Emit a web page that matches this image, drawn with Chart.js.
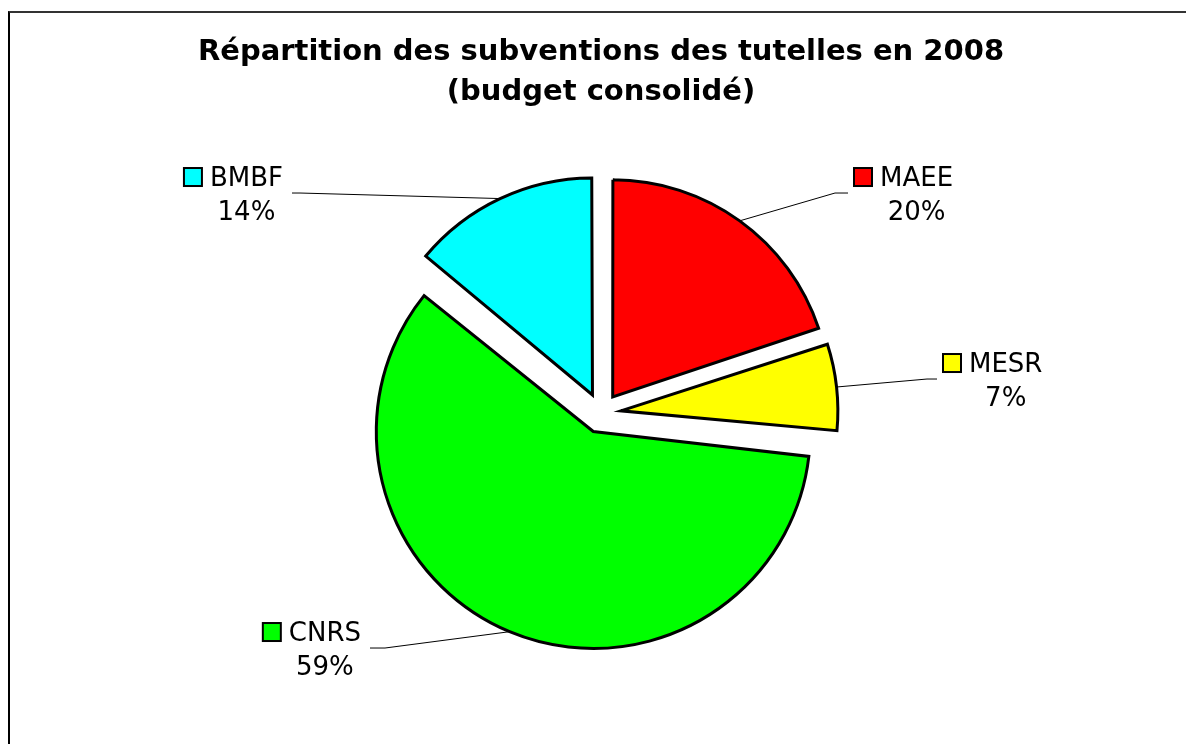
<!DOCTYPE html>
<html>
<head>
<meta charset="utf-8">
<script src="https://cdn.jsdelivr.net/npm/chart.js@4.4.1/dist/chart.umd.min.js"></script>
<style>
html, body { margin: 0; padding: 0; background: #fff; overflow: hidden; }
#frame { position: absolute; left: 8px; top: 11px; width: 1300px; height: 900px; border-top: 2px solid #333; border-left: 2px solid #000; }
#myChart { position: absolute; left: 0; top: 0; }
</style>
</head>
<body>
<div id="frame"></div>
<canvas id="myChart" width="1186" height="744"></canvas>
<script>
var categories = ['MAEE', 'MESR', 'CNRS', 'BMBF'];
var values = [19.9, 6.7, 59.4, 14.0];
var colors = ['#ff0000', '#ffff00', '#00ff00', '#00ffff'];
var titleLines = ['Répartition des subventions des tutelles en 2008', '(budget consolidé)'];

// layout bits (not data)
var pieRadius = 217;
var explode = 20;                 // px each slice is pulled out
var labelPos = [[247, -220], [336, -34], [-231, 235], [-309, -220]];   // leader end, relative to pie centre
var elbow = [-13, -10, 15, 8];    // short horizontal part of the leader
var labelFont = '26px "DejaVu Sans", Verdana, sans-serif';

// chart.js grows narrow exploded slices a bit, put them back to one radius
var fixRadius = {
    id: 'fixRadius',
    beforeDatasetsDraw: function(chart) {
        chart.getDatasetMeta(0).data.forEach(function(arc) {
            var fix = 1 - Math.sin(Math.min(Math.PI, arc.circumference));
            arc.outerRadius = pieRadius - explode * fix;
        });
    }
};

var pieLabels = {
    id: 'pieLabels',
    afterDatasetsDraw: function(chart) {
        var ctx = chart.ctx;
        var arcs = chart.getDatasetMeta(0).data;
        var total = values.reduce(function(a, b) { return a + b; }, 0);
        ctx.save();
        arcs.forEach(function(arc, i) {
            var mid = (arc.startAngle + arc.endAngle) / 2;
            var cx = arc.x + Math.cos(mid) * explode;
            var cy = arc.y + Math.sin(mid) * explode;
            var ax = cx + Math.cos(mid) * pieRadius;
            var ay = cy + Math.sin(mid) * pieRadius;
            var px = arc.x + labelPos[i][0];
            var py = arc.y + labelPos[i][1];

            ctx.strokeStyle = '#000';
            ctx.lineWidth = 1;
            ctx.beginPath();
            ctx.moveTo(ax, ay);
            ctx.lineTo(px + elbow[i], py);
            ctx.lineTo(px, py);
            ctx.stroke();

            ctx.font = labelFont;
            ctx.fillStyle = '#000';
            ctx.textBaseline = 'alphabetic';
            var name = categories[i];
            var pct = Math.round(values[i] / total * 100) + '%';
            var w = ctx.measureText(name).width;
            var nameX, keyX;
            if (labelPos[i][0] > 0) {
                keyX = px + 6;
                nameX = keyX + 26;
            } else {
                nameX = px - 9 - w;
                keyX = nameX - 26;
            }
            ctx.textAlign = 'left';
            ctx.fillText(name, nameX, py - 7);
            ctx.textAlign = 'center';
            ctx.fillText(pct, nameX + w / 2, py + 27);

            ctx.fillStyle = colors[i];
            ctx.fillRect(keyX, py - 25, 18, 18);
            ctx.lineWidth = 2;
            ctx.strokeRect(keyX, py - 25, 18, 18);
        });
        ctx.restore();
    }
};

var ctx = document.getElementById('myChart').getContext('2d');
var chart = new Chart(ctx, {
    type: 'pie',
    data: {
        labels: categories,
        datasets: [{
            data: values,
            backgroundColor: colors,
            borderColor: '#000',
            borderWidth: 3,
            borderJoinStyle: 'miter',
            offset: explode * 4
        }]
    },
    options: {
        responsive: false,
        animation: false,
        events: [],
        radius: pieRadius,
        layout: { padding: { left: 24, right: 8, top: 0, bottom: 40 } },
        plugins: {
            legend: { display: false },
            tooltip: { enabled: false },
            title: {
                display: true,
                text: titleLines,
                color: '#000',
                font: { family: '"DejaVu Sans", Verdana, sans-serif', size: 29, weight: 'bold', lineHeight: 1.38 },
                padding: { top: 32, bottom: 10 }
            }
        }
    },
    plugins: [fixRadius, pieLabels]
});
</script>
</body>
</html>
